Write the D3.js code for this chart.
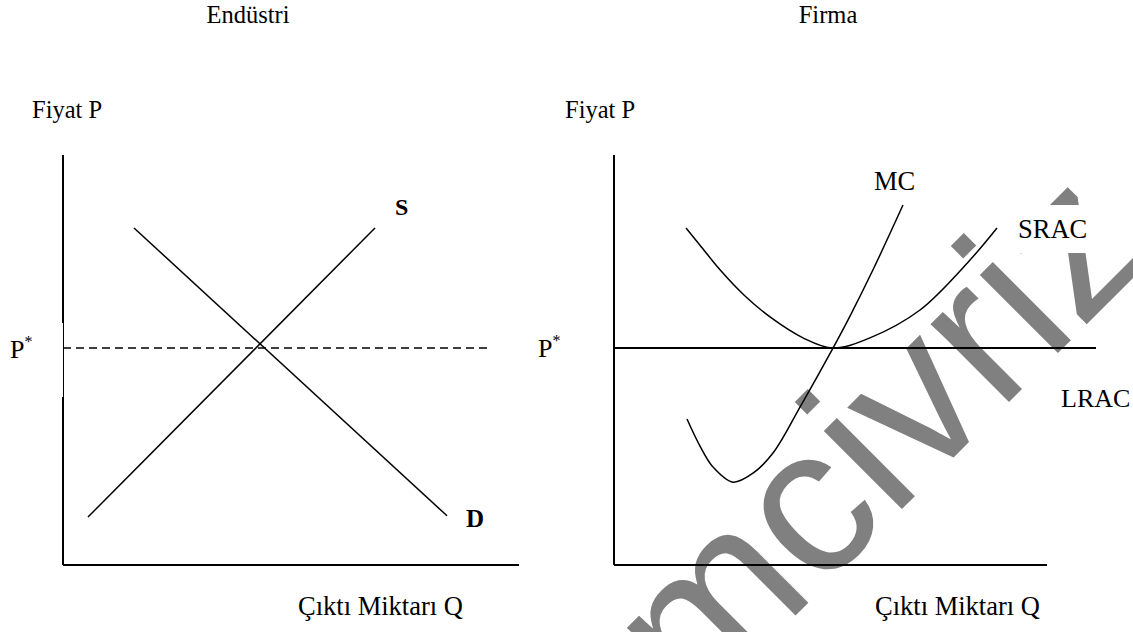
<!DOCTYPE html>
<html>
<head>
<meta charset="utf-8">
<script src="https://cdn.jsdelivr.net/npm/d3@7"></script>
<style>
  html, body { margin: 0; padding: 0; background: #fff; }
  svg { display: block; }
  text { font-family: "Liberation Serif", "Times New Roman", serif; fill: #000; }
</style>
</head>
<body>
<svg id="chart" width="1133" height="632"></svg>
<script>
// ---------- data (economic units) ----------
// Left panel: industry
const supplyQ = [0.5, 6.24];
const supplyP = [1.17, 8.22];
const demandQ = [1.42, 7.68];
const demandP = [8.22, 1.2];
const pStarIndustry = 5.29;
const industryAxisQMax = 9.12;
const industryDashQMax = 8.54;

// Right panel: firm
const mcQ = [1.46, 1.72, 1.98, 2.38, 2.78, 3.18, 3.72, 4.38, 4.72, 5.18, 5.78];
const mcP = [3.56, 2.90, 2.39, 2.02, 2.24, 2.73, 3.85, 5.29, 6.07, 7.20, 8.78];
const sracQ = [1.44, 1.72, 2.12, 2.62, 3.12, 3.78, 4.38, 5.12, 6.12, 7.12, 7.66];
const sracP = [8.22, 7.80, 7.20, 6.56, 6.05, 5.54, 5.29, 5.54, 6.22, 7.44, 8.22];
const lracP = 5.29;
const firmAxisQMax = 8.66;
const lracQMax = 9.64;
const axisPMax = 10;

const titles = ["Endüstri", "Firma"];
const yLabel = "Fiyat P";
const xLabel = "Çıktı Miktarı Q";

// ---------- scales ----------
const svg = d3.select("#chart");
const y = d3.scaleLinear().domain([0, 10]).range([565, 155]);
const xL = d3.scaleLinear().domain([0, 10]).range([63, 563]);
const xR = d3.scaleLinear().domain([0, 10]).range([614, 1114]);

// ---------- watermark (underneath) ----------
svg.append("text")
  .attr("transform", "translate(695,716) rotate(-45)")
  .style("font-family", "'Liberation Sans', Arial, sans-serif")
  .style("font-size", "209px")
  .style("fill", "#808080")
  .text("mcivriz");
// white label box of SRAC covering watermark
svg.append("rect").attr("x", 1008).attr("y", 205).attr("width", 125).attr("height", 48).attr("fill", "#fff");

const line = d3.line();
const curve = d3.line().curve(d3.curveCatmullRom.alpha(0.5));

// ---------- left panel ----------
const gL = svg.append("g");
gL.append("path").attr("d", line([[xL(0), y(0)], [xL(0), y(axisPMax)]]))
  .attr("stroke", "#000").attr("stroke-width", 2).attr("fill", "none");
gL.append("path").attr("d", line([[xL(0), y(0)], [xL(industryAxisQMax), y(0)]]))
  .attr("stroke", "#000").attr("stroke-width", 2).attr("fill", "none");
// P* label box covering part of the axis
gL.append("rect").attr("x", 0).attr("y", 323).attr("width", xL(0)).attr("height", 74).attr("fill", "#fff");
gL.append("path").attr("d", line([[xL(0), y(pStarIndustry)], [xL(industryDashQMax), y(pStarIndustry)]]))
  .attr("stroke", "#000").attr("stroke-width", 1.5).attr("stroke-dasharray", "8,5").attr("fill", "none");
gL.append("path").attr("d", line(supplyQ.map((q, i) => [xL(q), y(supplyP[i])])))
  .attr("stroke", "#000").attr("stroke-width", 1.5).attr("fill", "none");
gL.append("path").attr("d", line(demandQ.map((q, i) => [xL(q), y(demandP[i])])))
  .attr("stroke", "#000").attr("stroke-width", 1.5).attr("fill", "none");

// ---------- right panel ----------
const gR = svg.append("g");
gR.append("path").attr("d", line([[xR(0), y(0)], [xR(0), y(axisPMax)]]))
  .attr("stroke", "#000").attr("stroke-width", 2).attr("fill", "none");
gR.append("path").attr("d", line([[xR(0), y(0)], [xR(firmAxisQMax), y(0)]]))
  .attr("stroke", "#000").attr("stroke-width", 2).attr("fill", "none");
gR.append("path").attr("d", line([[xR(0), y(lracP)], [xR(lracQMax), y(lracP)]]))
  .attr("stroke", "#000").attr("stroke-width", 2).attr("fill", "none");
gR.append("path").attr("d", curve(sracQ.map((q, i) => [xR(q), y(sracP[i])])))
  .attr("stroke", "#000").attr("stroke-width", 1.5).attr("fill", "none");
gR.append("path").attr("d", curve(mcQ.map((q, i) => [xR(q), y(mcP[i])])))
  .attr("stroke", "#000").attr("stroke-width", 1.5).attr("fill", "none");

// ---------- text ----------
function label(x, yy, txt, opts = {}) {
  return svg.append("text").attr("x", x).attr("y", yy)
    .style("font-size", (opts.size || 26.5) + "px")
    .style("font-weight", opts.bold ? "bold" : "normal")
    .attr("text-anchor", opts.anchor || "start")
    .text(txt);
}
function pstar(x, yy) {
  const t = svg.append("text").attr("x", x).attr("y", yy).style("font-size", "26px");
  t.append("tspan").text("P");
  t.append("tspan").attr("dy", -11).style("font-size", "16px").text("*");
}

label(248, 23, titles[0], { anchor: "middle", size: 24.5 });
label(828, 23, titles[1], { anchor: "middle", size: 24.5 });
label(32, 118, yLabel, { size: 24.5 });
label(565, 118, yLabel, { size: 24.5 });
pstar(10, 358);
pstar(538, 357);
label(395, 215, "S", { bold: true, size: 24 });
label(466, 527, "D", { bold: true, size: 25 });
label(874, 190, "MC");
label(1018, 238, "SRAC");
label(1061, 407, "LRAC", { size: 26 });
label(298, 615, xLabel);
label(875, 615, xLabel);
</script>
</body>
</html>
